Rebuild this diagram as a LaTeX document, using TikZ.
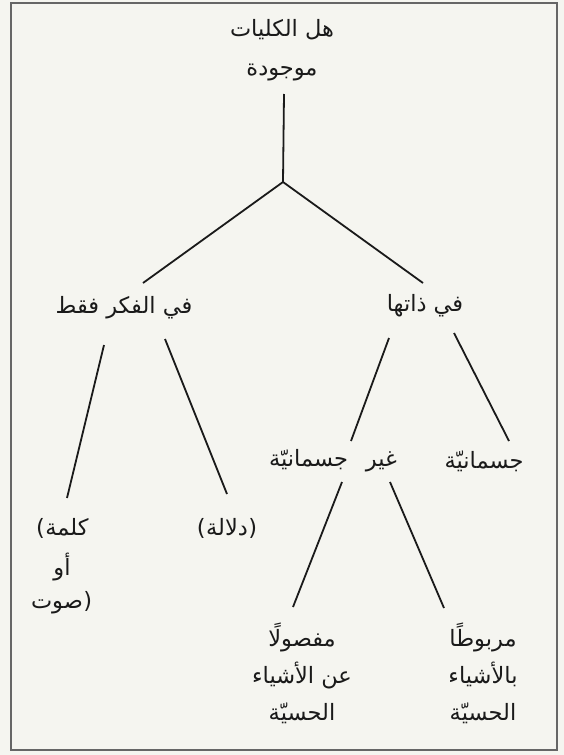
\documentclass[tikz,border=0pt]{standalone}
\usepackage{fontspec}
\TeXXeTstate=1
\newfontfamily\arabicfont[Script=Arabic]{DejaVu Sans}
\newfontfamily\parfont{DejaVu Sans}
\definecolor{paper}{HTML}{F5F5F0}
\definecolor{ink}{HTML}{1A1A1A}
\begin{document}
\begin{tikzpicture}[x=1pt,y=-1pt,
  lbl/.style={font=\arabicfont\fontsize{22.5}{39}\selectfont, align=center, inner sep=0pt, text=ink},
  par/.style={font=\parfont\fontsize{22.5}{39}\selectfont, inner sep=0pt, text=ink},
  ln/.style={line width=1.8pt, draw=ink},
  frame/.style={line width=1.2pt, draw=black!60}]
\fill[paper] (0,0) rectangle (564,755);
\useasboundingbox (0,0) rectangle (564,755);
\draw[frame] (11,3) rectangle (557,750);

% texts
\node[lbl] (root) at (282,50) {\beginR هل الكليات\endR\\\beginR موجودة\endR};
\node[lbl] (fikr) at (124,308) {\beginR في الفكر فقط\endR};
\node[lbl] (dhat) at (425,306) {\beginR في ذاتها\endR};
\node[lbl] (kalima) at (67,527) {\beginR كلمة\endR};
\node[par,anchor=base east] (kalimaP) at (kalima.base west) {(};
\node[lbl] (aw) at (62,567) {\beginR أو\endR};
\node[lbl] (sawt) at (57,607) {\beginR صوت\endR};
\node[par,anchor=base west] (sawtP) at (sawt.base east) {)};
\node[lbl] (dalala) at (227,527) {\beginR دلالة\endR};
\node[par,anchor=base east] (dalalaL) at (dalala.base west) {(};
\node[par,anchor=base west] (dalalaR) at (dalala.base east) {)};
\node[lbl] (ghayr) at (333,461) {\beginR غير\hspace{18pt}جسمانيّة\endR};
\node[lbl] (jism) at (484,461) {\beginR جسمانيّة\endR};
\node[lbl,font=\arabicfont\fontsize{22.5}{37}\selectfont] (mafsul) at (302,673) {\beginR مفصولًا\endR\\\beginR عن الأشياء\endR\\\beginR الحسيّة\endR};
\node[lbl,font=\arabicfont\fontsize{22.5}{37}\selectfont] (marbut) at (483,673) {\beginR مربوطًا\endR\\\beginR بالأشياء\endR\\\beginR الحسيّة\endR};

% connector end points
\coordinate (r1) at (284,94);
\coordinate (j) at (283,182);
\coordinate (fT) at (143,283);
\coordinate (dT) at (423,283);
\coordinate (fA) at (104,345);
\coordinate (kT) at (67,498);
\coordinate (fB) at (165,339);
\coordinate (dlT) at (227,494);
\coordinate (dA) at (389,338);
\coordinate (gT) at (351,441);
\coordinate (dB) at (454,333);
\coordinate (jT) at (509,441);
\coordinate (gA) at (342,482);
\coordinate (mfT) at (293,607);
\coordinate (gB) at (390,482);
\coordinate (mbT) at (444,608);

% connectors
\draw[ln] (r1) -- (j);
\draw[ln] (j) -- (fT);
\draw[ln] (j) -- (dT);
\draw[ln] (fA) -- (kT);
\draw[ln] (fB) -- (dlT);
\draw[ln] (dA) -- (gT);
\draw[ln] (dB) -- (jT);
\draw[ln] (gA) -- (mfT);
\draw[ln] (gB) -- (mbT);
\end{tikzpicture}
\end{document}
